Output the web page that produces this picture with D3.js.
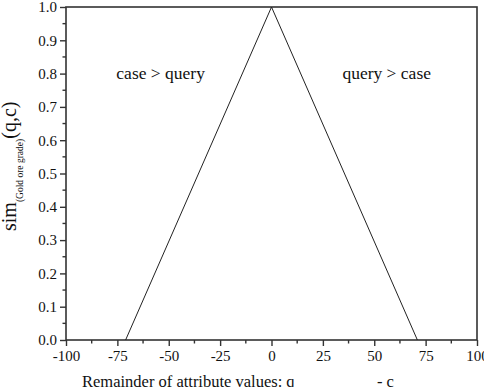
<!DOCTYPE html>
<html>
<head>
<meta charset="utf-8">
<script src="https://cdn.jsdelivr.net/npm/d3@7/dist/d3.min.js"></script>
<style>
  body { margin: 0; background: #fff; }
</style>
</head>
<body>
<svg id="chart" width="484" height="387"></svg>
<script>
// 数据: 三角形相似度函数
const xValues = [-71, 0, 71];
const simValues = [0, 1, 0];
const xTicks = [-100, -75, -50, -25, 0, 25, 50, 75, 100];
const yTicks = [0, 0.1, 0.2, 0.3, 0.4, 0.5, 0.6, 0.7, 0.8, 0.9, 1.0];
const regionLabels = ['case > query', 'query > case'];

const FONT = 'Liberation Serif';
const svg = d3.select('#chart');
const pLeft = 66, pRight = 477, pTop = 7, pBottom = 340;

const xScale = d3.scaleLinear().domain([-100, 100]).range([pLeft, pRight]);
const yScale = d3.scaleLinear().domain([0, 1]).range([pBottom, pTop]);

const axisColor = '#333';

// frame (top/right without ticks)
svg.append('rect')
    .attr('x', pLeft).attr('y', pTop)
    .attr('width', pRight - pLeft).attr('height', pBottom - pTop)
    .attr('fill', 'none')
    .attr('stroke', axisColor)
    .attr('stroke-width', 1.6);

// x axis
let xAxis = d3.axisBottom(xScale)
    .tickValues(xTicks)
    .tickSize(6)
    .tickPadding(4)
    .tickFormat(d3.format('d'));
let gx = svg.append('g').attr('transform', 'translate(0,' + pBottom + ')').call(xAxis);
gx.select('.domain').remove();
gx.selectAll('line').attr('stroke', axisColor).attr('stroke-width', 1.4);
gx.selectAll('text')
    .attr('font-family', FONT).attr('font-size', 15).attr('fill', '#111')
    .text(d => d < 0 ? '-' + Math.abs(d) : d);
// minor x ticks
svg.append('g').selectAll('line')
    .data(xTicks.slice(0, -1).map(d => d + 12.5))
    .enter().append('line')
    .attr('x1', d => xScale(d)).attr('x2', d => xScale(d))
    .attr('y1', pBottom).attr('y2', pBottom + 3.5)
    .attr('stroke', axisColor).attr('stroke-width', 1.4);

// y axis
let yAxis = d3.axisLeft(yScale)
    .tickValues(yTicks)
    .tickSize(6)
    .tickPadding(3)
    .tickFormat(d3.format('.1f'));
let gy = svg.append('g').attr('transform', 'translate(' + pLeft + ',0)').call(yAxis);
gy.select('.domain').remove();
gy.selectAll('line').attr('stroke', axisColor).attr('stroke-width', 1.4);
gy.selectAll('text')
    .attr('font-family', FONT).attr('font-size', 15).attr('fill', '#111');
// minor y ticks
svg.append('g').selectAll('line')
    .data(yTicks.slice(0, -1).map(d => d + 0.05))
    .enter().append('line')
    .attr('x1', pLeft - 3.5).attr('x2', pLeft)
    .attr('y1', d => yScale(d)).attr('y2', d => yScale(d))
    .attr('stroke', axisColor).attr('stroke-width', 1.4);

// triangle line
let line = d3.line()
    .x((d, i) => xScale(xValues[i]))
    .y(d => yScale(d));
svg.append('path')
    .datum(simValues)
    .attr('d', line)
    .attr('fill', 'none')
    .attr('stroke', '#222')
    .attr('stroke-width', 1);

// region labels
svg.append('text').attr('x', xScale(-75.5)).attr('y', yScale(0.8) + 5)
    .attr('font-family', FONT).attr('font-size', 17.5).attr('fill', '#111')
    .text(regionLabels[0]);
svg.append('text').attr('x', xScale(34.5)).attr('y', yScale(0.8) + 5)
    .attr('font-family', FONT).attr('font-size', 17.5).attr('fill', '#111')
    .text(regionLabels[1]);

// x axis title (bottom, partly cut off like the original)
svg.append('text').attr('x', 82).attr('y', 387)
    .attr('font-family', FONT).attr('font-size', 16.5).attr('fill', '#111')
    .text('Remainder of attribute values: q');
svg.append('text').attr('x', 377).attr('y', 387)
    .attr('font-family', FONT).attr('font-size', 16.5).attr('fill', '#111')
    .text('- c');

// y axis title with subscript
let yt = svg.append('text')
    .attr('transform', 'translate(16,231) rotate(-90)')
    .attr('font-family', FONT).attr('font-size', 20).attr('fill', '#111');
yt.append('tspan').text('sim');
yt.append('tspan').attr('font-size', 9.5).attr('dy', 7).text('(Gold ore grade)');
yt.append('tspan').attr('dy', -7).text('(q,c)');
</script>
</body>
</html>
